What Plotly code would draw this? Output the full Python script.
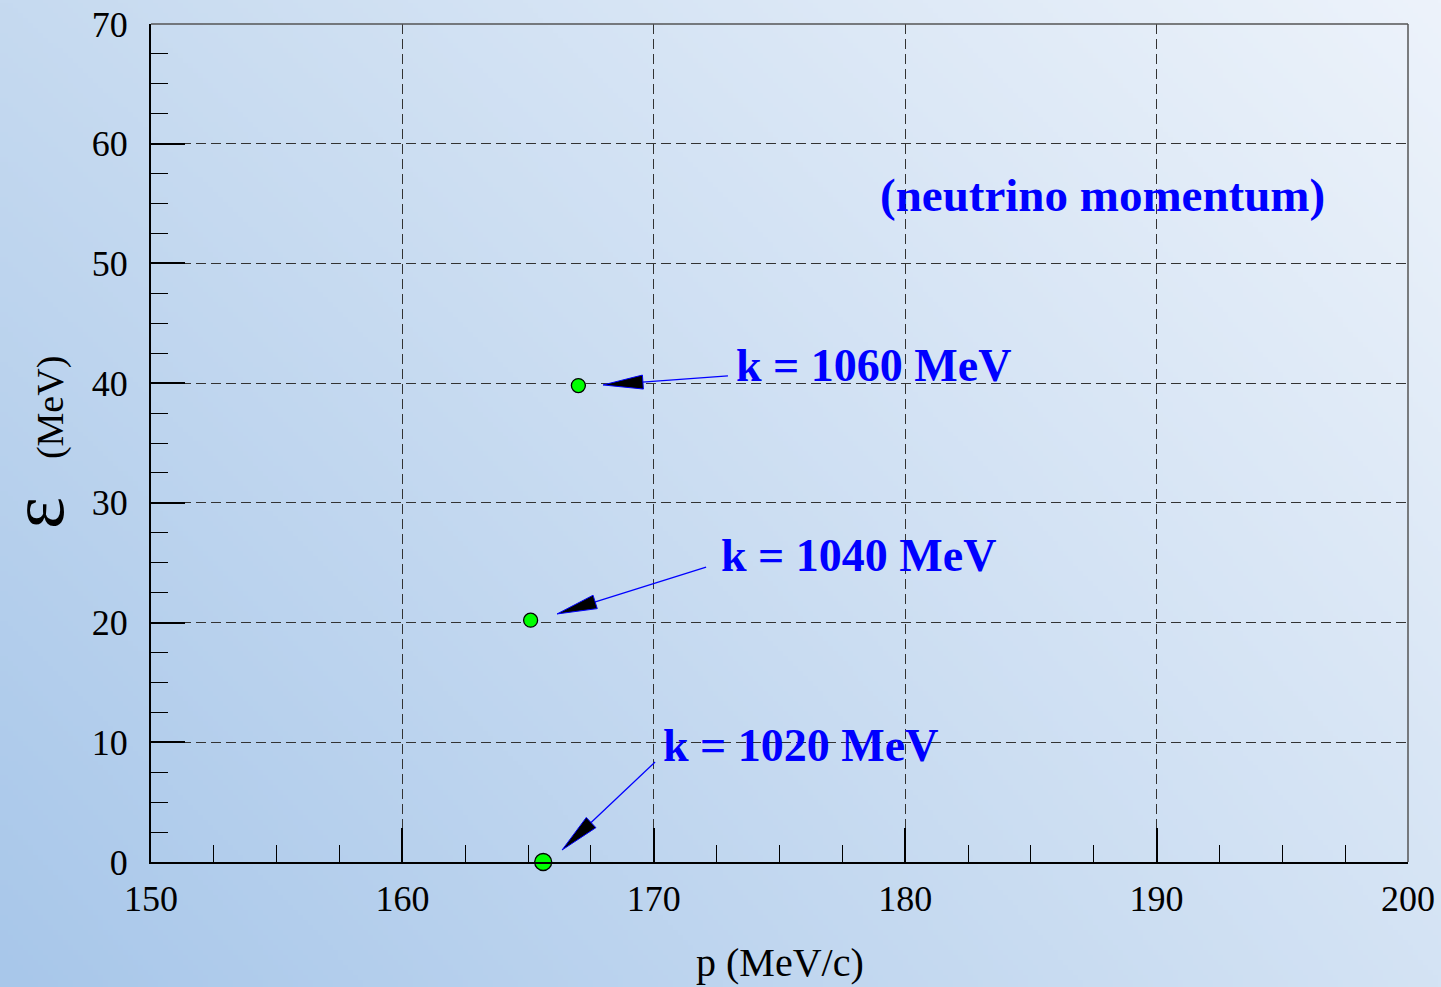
import base64, struct, zlib
import numpy as np
import plotly.graph_objects as go

# ---------------- data ----------------
p_vals = [167.0, 165.1, 165.6]          # MeV/c
eps_vals = [39.8, 20.2, 0.0]            # MeV
marker_sizes = [14, 14, 17]
k_labels = ["k = 1060 MeV", "k = 1040 MeV", "k = 1020 MeV"]
label_x = [173.2, 172.6, 170.3]
label_y = [41.5, 25.6, 9.7]
arrow_tip_x = [167.98, 166.15, 166.35]
arrow_tip_y = [39.85, 20.72, 1.0]
arrow_tail_x = [172.95, 172.08, 170.05]
arrow_tail_y = [40.6, 24.64, 8.35]
note_text = "(neutrino momentum)"
note_x, note_y = 178.9, 55.75
x_ticks = [150, 160, 170, 180, 190, 200]
y_ticks = [0, 10, 20, 30, 40, 50, 60, 70]

# ---------------- geometry ----------------
W, H = 1441, 987
ML, MR, MT, MB = 151, 33, 24, 125
PW, PH = W - ML - MR, H - MT - MB
XR, YR = [150, 200], [0, 70]
sx = PW / (XR[1] - XR[0])   # px per x unit
sy = PH / (YR[1] - YR[0])   # px per y unit

# ---------------- gradient background image ----------------
def gradient_uri(w, h):
    tl = np.array([198, 218, 240], float)
    tr = np.array([237, 243, 251], float)
    bl = np.array([168, 199, 234], float)
    br = np.array([212, 227, 244], float)
    u = np.linspace(0, 1, w)[None, :, None]
    v = np.linspace(0, 1, h)[:, None, None]
    img = (1 - v) * ((1 - u) * tl + u * tr) + v * ((1 - u) * bl + u * br)
    img = np.clip(img, 0, 255).astype(np.uint8)
    raw = b"".join(b"\x00" + img[r].tobytes() for r in range(h))

    def chunk(t, d):
        return struct.pack(">I", len(d)) + t + d + struct.pack(">I", zlib.crc32(t + d) & 0xFFFFFFFF)

    png = (b"\x89PNG\r\n\x1a\n"
           + chunk(b"IHDR", struct.pack(">IIBBBBB", w, h, 8, 2, 0, 0, 0))
           + chunk(b"IDAT", zlib.compress(raw, 9))
           + chunk(b"IEND", b""))
    return "data:image/png;base64," + base64.b64encode(png).decode()

fig = go.Figure()

fig.add_trace(go.Scatter(
    x=p_vals, y=eps_vals, mode="markers",
    marker=dict(size=marker_sizes, color="#00ff00", opacity=1, line=dict(color="black", width=1.3)),
    cliponaxis=False, showlegend=False, hoverinfo="skip",
))

shapes = []
# arrows: blue shaft + black head with blue outline
HEAD_LEN, HEAD_HALF = 40, 7
for tx, ty, ax, ay in zip(arrow_tip_x, arrow_tip_y, arrow_tail_x, arrow_tail_y):
    dxp = (ax - tx) * sx
    dyp = (ay - ty) * sy
    L = (dxp ** 2 + dyp ** 2) ** 0.5
    ux, uy = dxp / L, dyp / L
    bx, by = HEAD_LEN * ux, HEAD_LEN * uy
    nx, ny = -uy * HEAD_HALF, ux * HEAD_HALF
    p1 = (tx + (bx + nx) / sx, ty + (by + ny) / sy)
    p2 = (tx + (bx - nx) / sx, ty + (by - ny) / sy)
    shapes.append(dict(type="line", xref="x", yref="y", x0=ax, y0=ay,
                       x1=tx + bx * 0.9 / sx, y1=ty + by * 0.9 / sy,
                       line=dict(color="#0000ff", width=1.3), layer="above"))
    shapes.append(dict(type="path", xref="x", yref="y",
                       path=f"M {tx},{ty} L {p1[0]},{p1[1]} L {p2[0]},{p2[1]} Z",
                       fillcolor="black", line=dict(color="#0000ff", width=1), layer="above"))

# top and right frame lines
shapes.append(dict(type="line", xref="paper", yref="paper", x0=0, x1=1, y0=1, y1=1,
                   line=dict(color="#555555", width=1.5), layer="above"))
shapes.append(dict(type="line", xref="paper", yref="paper", x0=1, x1=1, y0=0, y1=1,
                   line=dict(color="#555555", width=1.5), layer="above"))

annotations = []
for t, x, y in zip(k_labels, label_x, label_y):
    annotations.append(dict(x=x, y=y, xref="x", yref="y", text=f"<b>{t}</b>", showarrow=False,
                            xanchor="left", yanchor="middle",
                            font=dict(family="Liberation Serif", size=46, color="#0000ff")))
annotations.append(dict(x=note_x, y=note_y, xref="x", yref="y", text=f"<b>{note_text}</b>",
                        showarrow=False, xanchor="left", yanchor="middle",
                        font=dict(family="Liberation Serif", size=47, color="#0000ff")))
annotations.append(dict(x=0.5, y=0, xref="paper", yref="paper", text="p (MeV/c)", showarrow=False,
                        xanchor="center", yanchor="middle", yshift=-100,
                        font=dict(family="Liberation Serif", size=40, color="black")))
annotations.append(dict(x=0, y=0.5, xref="paper", yref="paper",
                        text="<span style='font-size:76px'>ε</span>    (MeV)", showarrow=False,
                        textangle=-90, xanchor="center", yanchor="middle", xshift=-114,
                        font=dict(family="Liberation Serif", size=38, color="black")))

axis_common = dict(
    showline=True, linecolor="black", linewidth=2, mirror=False,
    ticks="inside", ticklen=34, tickwidth=1.5, tickcolor="black",
    showgrid=True, gridcolor="#333333", gridwidth=1, griddash="10px,5px",
    zeroline=False,
    tickfont=dict(family="Liberation Serif", size=36, color="black"),
    minor=dict(ticks="inside", ticklen=17, tickwidth=1.2, tickcolor="black", dtick=2.5, showgrid=False),
)

fig.update_layout(
    width=W, height=H,
    margin=dict(l=ML, r=MR, t=MT, b=MB, autoexpand=False),
    paper_bgcolor="rgba(0,0,0,0)", plot_bgcolor="rgba(0,0,0,0)",
    xaxis=dict(range=XR, tickvals=x_ticks, ticklabelstandoff=4, **axis_common),
    yaxis=dict(range=YR, tickvals=y_ticks, ticklabelstandoff=14, **axis_common),
    shapes=shapes, annotations=annotations,
    images=[dict(source=gradient_uri(288, 198), xref="paper", yref="paper",
                 x=-ML / PW, y=1 + MT / PH, sizex=W / PW, sizey=H / PH,
                 xanchor="left", yanchor="top", sizing="stretch", layer="below")],
    showlegend=False,
)

fig.write_html("out.html")
